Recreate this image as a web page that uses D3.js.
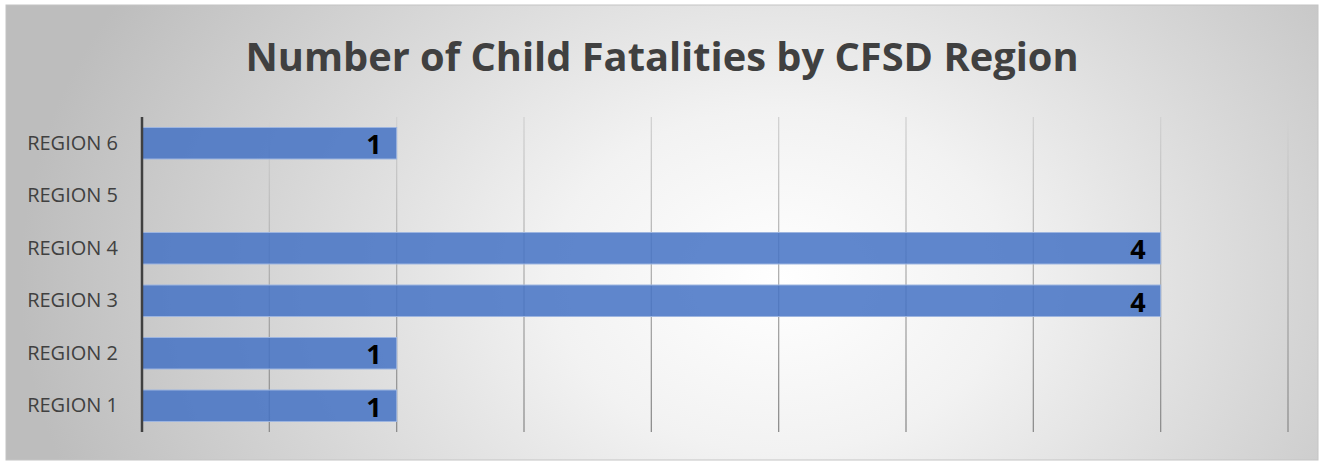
<!DOCTYPE html>
<html><head><meta charset="utf-8">
<script src="https://cdn.jsdelivr.net/npm/d3@7"></script>
<style>html,body{margin:0;padding:0;background:#fff;}svg{display:block;}</style>
</head><body>
<script>
const categories = ["REGION 6","REGION 5","REGION 4","REGION 3","REGION 2","REGION 1"];
const values = [1, null, 4, 4, 1, 1];
const xTicks = [0,0.5,1,1.5,2,2.5,3,3.5,4,4.5];
const title = "Number of Child Fatalities by CFSD Region";

const W = 1320, H = 461;
const svg = d3.select("body").append("svg").attr("width", W).attr("height", H);
const defs = svg.append("defs");
const rg = defs.append("radialGradient").attr("id","bg")
  .attr("gradientUnits","userSpaceOnUse").attr("cx",780).attr("cy",280).attr("r",760)
  .attr("gradientTransform","translate(780,280) scale(1,0.75) translate(-780,-280)");
rg.append("stop").attr("offset","0").attr("stop-color","#ffffff");
rg.append("stop").attr("offset","0.3").attr("stop-color","#f2f2f2");
rg.append("stop").attr("offset","1").attr("stop-color","#bdbdbd");
const gg = defs.append("linearGradient").attr("id","grid").attr("gradientUnits","userSpaceOnUse")
  .attr("x1",0).attr("y1",117).attr("x2",0).attr("y2",432);
gg.append("stop").attr("offset","0").attr("stop-color","#d2d2d2");
gg.append("stop").attr("offset","1").attr("stop-color","#8c8c8c");

svg.append("rect").attr("x",6).attr("y",5).attr("width",1312).attr("height",455)
  .attr("fill","url(#bg)").attr("stroke","#c4c4c4").attr("stroke-width",1);

svg.append("text").attr("x",662).attr("y",71).attr("text-anchor","middle")
  .attr("font-family","'Open Sans', sans-serif").attr("font-weight","bold")
  .attr("font-size",39.8).attr("fill","#404040").text(title);

const x = d3.scaleLinear().domain([0,4.5]).range([142,1288]);
const y = d3.scaleBand().domain(categories).range([117,432]).paddingInner(0.4).paddingOuter(0.2);

// gridlines
svg.append("g").selectAll("line").data(xTicks.slice(1)).join("line")
  .attr("x1",d=>x(d)).attr("x2",d=>x(d)).attr("y1",117).attr("y2",432)
  .attr("stroke","url(#grid)").attr("stroke-width",1.3);

// bars
const data = categories.map((c,i)=>({c, v: values[i]})).filter(d=>d.v!=null);
svg.append("g").selectAll("rect").data(data).join("rect")
  .attr("x",x(0)).attr("y",d=>y(d.c)).attr("width",d=>x(d.v)-x(0)).attr("height",y.bandwidth())
  .attr("fill","#4472c4").attr("fill-opacity",0.85).attr("stroke","#9db5e0").attr("stroke-width",1);

// value labels
svg.append("g").selectAll("text").data(data).join("text")
  .attr("x",d=>x(d.v)-15).attr("y",d=>y(d.c)+y.bandwidth()/2).attr("dy","0.4em")
  .attr("text-anchor","end").attr("font-family","'Open Sans', sans-serif").attr("font-weight","bold")
  .attr("font-size",27).attr("fill","#000").text(d=>d.v);

// y axis
const yAxis = svg.append("g").attr("transform","translate(142,0)").call(d3.axisLeft(y).tickSize(0).tickPadding(24));
yAxis.select(".domain").attr("stroke","#404040").attr("stroke-width",2.5).attr("d","M0,117V432");
yAxis.selectAll("text").attr("font-family","'Open Sans', sans-serif").attr("font-size",20).attr("fill","#404040");
</script>
</body></html>
